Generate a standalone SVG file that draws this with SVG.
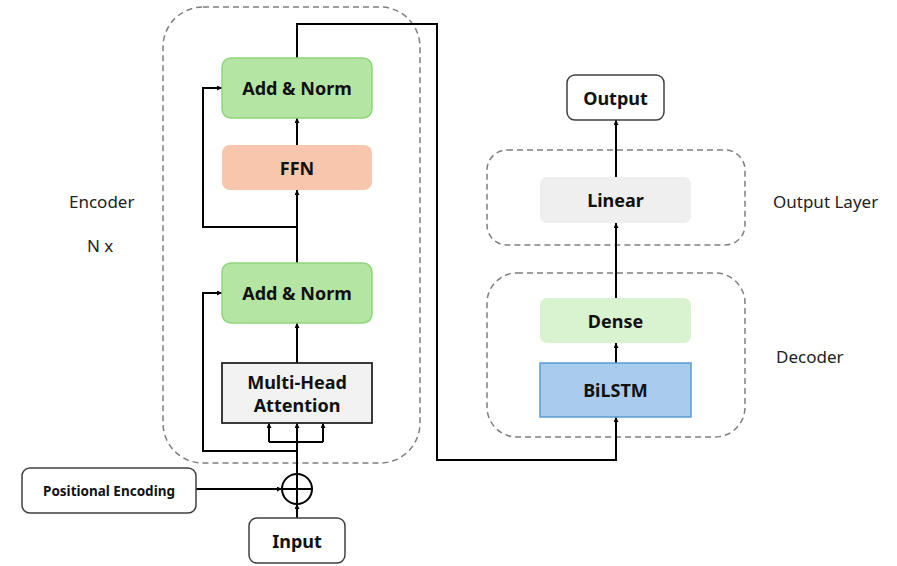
<svg xmlns="http://www.w3.org/2000/svg" width="897" height="566" viewBox="0 0 897 566">
<defs>
<marker id="ah" viewBox="0 0 10 10" refX="10" refY="5" markerWidth="5" markerHeight="5" orient="auto-start-reverse" markerUnits="userSpaceOnUse">
<path d="M0,0 L10,5 L0,10 z" fill="#000"/>
</marker>
<style>
.dash{fill:none;stroke:#7f7f7f;stroke-width:1.5;stroke-dasharray:6 4}
.t{font-family:"Noto Sans","DejaVu Sans",sans-serif;font-weight:bold;font-size:18px;fill:#111;text-anchor:middle;dominant-baseline:central}
.lbl{font-family:"Noto Sans","DejaVu Sans",sans-serif;font-size:17px;fill:#222;dominant-baseline:central}
.ln{fill:none;stroke:#000;stroke-width:2}
.ar{fill:none;stroke:#000;stroke-width:2;marker-end:url(#ah)}
.box{fill:#fff;stroke:#404040;stroke-width:1.5}
</style>
</defs>
<rect width="897" height="566" fill="#fff"/>
<g id="groups">
<rect class="dash" x="163" y="7" width="257" height="456" rx="40"/>
<rect class="dash" x="487" y="150" width="258" height="95" rx="20"/>
<rect class="dash" x="487" y="273" width="258" height="164" rx="30"/>
</g>
<g id="labels">
<text class="lbl" x="69" y="201">Encoder</text>
<text class="lbl" x="87" y="245">N x</text>
<text class="lbl" x="773" y="201">Output Layer</text>
<text class="lbl" x="776" y="356">Decoder</text>
</g>
<g id="connectors">
<path class="ar" d="M297,145 L297,118"/>
<path class="ar" d="M297,263 L297,190"/>
<path class="ar" d="M297,363 L297,323"/>
<path class="ar" d="M297,474 L297,423"/>
<path class="ln" d="M269,442 L323,442"/>
<path class="ar" d="M269,442 L269,423"/>
<path class="ar" d="M323,442 L323,423"/>
<path class="ar" d="M297,451 L203,451 L203,293 L222,293"/>
<path class="ar" d="M297,227 L203,227 L203,88 L222,88"/>
<path class="ar" d="M297,58 L297,24 L437,24 L437,460 L616,460 L616,417"/>
<path class="ar" d="M196,489 L282,489"/>
<path class="ar" d="M297,518 L297,504"/>
<path class="ar" d="M616,363 L616,343"/>
<path class="ar" d="M616,298 L616,223"/>
<path class="ar" d="M616,177 L616,120"/>
</g>
<g id="addnorm2">
<rect x="222" y="58" width="150" height="60" rx="9" fill="#b4e5a2" stroke="#8fd67a" stroke-width="1.5"/>
<text class="t" x="297" y="88">Add &amp; Norm</text>
</g>
<g id="ffn">
<rect x="222" y="145" width="150" height="45" rx="8" fill="#f7c6ac"/>
<text class="t" x="297" y="167.5">FFN</text>
</g>
<g id="addnorm1">
<rect x="222" y="263" width="150" height="60" rx="9" fill="#b4e5a2" stroke="#8fd67a" stroke-width="1.5"/>
<text class="t" x="297" y="293">Add &amp; Norm</text>
</g>
<g id="mha">
<rect x="222" y="363" width="150" height="60" fill="#f2f2f2" stroke="#262626" stroke-width="1.8"/>
<text class="t" x="297" y="382">Multi-Head</text>
<text class="t" x="297" y="405">Attention</text>
</g>
<g id="plus">
<circle cx="297" cy="489" r="15" fill="#fff" stroke="#000" stroke-width="2"/>
<path d="M282,489 L312,489 M297,474 L297,504" stroke="#000" stroke-width="2"/>
</g>
<g id="posenc">
<rect class="box" x="22" y="468" width="174" height="45" rx="8"/>
<text class="t" x="109" y="490.5" style="font-size:13.5px">Positional Encoding</text>
</g>
<g id="input">
<rect class="box" x="249" y="518" width="96" height="45" rx="8"/>
<text class="t" x="297" y="540.5">Input</text>
</g>
<g id="output">
<rect class="box" x="567" y="75" width="97" height="45" rx="8"/>
<text class="t" x="615.5" y="97.5">Output</text>
</g>
<g id="linear">
<rect x="540" y="177" width="151" height="46" rx="7" fill="#efefef"/>
<text class="t" x="615.5" y="200">Linear</text>
</g>
<g id="dense">
<rect x="540" y="298" width="151" height="45" rx="7" fill="#d9f2d0"/>
<text class="t" x="615.5" y="320.5">Dense</text>
</g>
<g id="bilstm">
<rect x="540" y="363" width="151" height="54" fill="#a9cbec" stroke="#5b9bd5" stroke-width="1.5"/>
<text class="t" x="615.5" y="390">BiLSTM</text>
</g>
</svg>
